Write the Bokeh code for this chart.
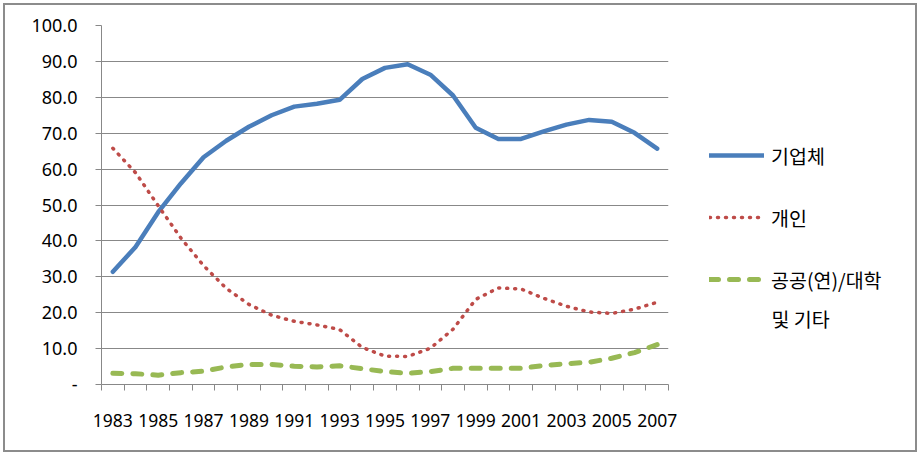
from bokeh.plotting import figure
from bokeh.layouts import row
from bokeh.models import Range1d, FixedTicker, PrintfTickFormatter, Legend, LegendItem, Label
from bokeh.embed import file_html
from bokeh.resources import INLINE

# ---- data ----
years = [1983, 1984, 1985, 1986, 1987, 1988, 1989, 1990, 1991, 1992, 1993, 1994, 1995,
         1996, 1997, 1998, 1999, 2000, 2001, 2002, 2003, 2004, 2005, 2006, 2007]
corp = [31.4, 38.3, 48.0, 56.0, 63.3, 67.9, 71.8, 75.0, 77.4, 78.2, 79.3, 85.1, 88.2,
        89.2, 86.3, 80.5, 71.5, 68.4, 68.4, 70.5, 72.4, 73.7, 73.2, 70.1, 65.7]
indiv = [65.8, 59.0, 49.8, 40.8, 33.1, 26.8, 22.3, 19.3, 17.6, 16.6, 15.3, 10.3, 7.9,
         7.8, 10.1, 15.4, 23.7, 26.9, 26.6, 24.0, 21.8, 20.2, 19.8, 21.0, 22.9]
public = [3.1, 3.0, 2.6, 3.3, 3.7, 4.9, 5.6, 5.6, 5.1, 4.9, 5.2, 4.4, 3.6,
          3.1, 3.6, 4.5, 4.5, 4.5, 4.5, 5.3, 5.8, 6.2, 7.3, 8.9, 11.1]
series_names = ["기업체", "개인", "공공(연)/대학"]
series_name_cont = "및 기타"
x_tick_labels = ["1983", "1985", "1987", "1989", "1991", "1993", "1995",
                 "1997", "1999", "2001", "2003", "2005", "2007"]
y_ticks = [0, 10, 20, 30, 40, 50, 60, 70, 80, 90, 100]

GRAY = "#888888"
INSET = 5  # outer margin + border
TOTAL_W, TOTAL_H = 920 - 2 * INSET, 455 - 2 * INSET
RIGHT_PAD = 22
PLOT_W = 668 + RIGHT_PAD - INSET
LEG_W = TOTAL_W - PLOT_W

STYLES = [
    dict(line_color="#4a7ebb", line_width=4.5, line_join="round", line_cap="round"),
    dict(line_color="#be4b48", line_width=3.5, line_dash="1 7", line_cap="round", line_join="round"),
    dict(line_color="#98b954", line_width=5, line_dash="9 11", line_cap="round", line_join="round"),
]
SERIES = [corp, indiv, public]

p = figure(width=PLOT_W, height=TOTAL_H, output_backend="svg", toolbar_location=None,
           x_range=Range1d(years[0] - 0.5, years[-1] + 0.5), y_range=Range1d(0, 100),
           min_border_left=101 - INSET, min_border_right=RIGHT_PAD,
           min_border_top=25 - INSET, min_border_bottom=71 - INSET)
p.outline_line_color = None
p.background_fill_color = "white"
p.border_fill_color = "white"

# grid
p.xgrid.visible = False
p.ygrid.ticker = FixedTicker(ticks=y_ticks)
p.ygrid.grid_line_color = GRAY
p.ygrid.grid_line_width = 1

# y axis
p.yaxis.ticker = FixedTicker(ticks=y_ticks)
p.yaxis.formatter = PrintfTickFormatter(format="%.1f")
p.yaxis.major_label_overrides = {0: "-"}
p.yaxis.axis_line_color = GRAY
p.yaxis.major_tick_line_color = GRAY
p.yaxis.major_tick_out = 6
p.yaxis.major_tick_in = 0
p.yaxis.minor_tick_line_color = None
p.yaxis.major_label_standoff = 18
p.yaxis.major_label_text_font = "Noto Sans"
p.yaxis.major_label_text_font_size = "18px"
p.yaxis.major_label_text_color = "black"

# x axis
label_vals = [int(s) for s in x_tick_labels]
bounds = [y - 0.5 for y in years] + [years[-1] + 0.5]
p.xaxis.ticker = FixedTicker(ticks=label_vals, minor_ticks=bounds)
p.xaxis.major_label_overrides = {v: s for v, s in zip(label_vals, x_tick_labels)}
p.xaxis.axis_line_color = GRAY
p.xaxis.major_tick_line_color = None
p.xaxis.major_tick_out = 0
p.xaxis.major_tick_in = 0
p.xaxis.minor_tick_line_color = GRAY
p.xaxis.minor_tick_out = 6
p.xaxis.minor_tick_in = 0
p.xaxis.major_label_standoff = 23
p.xaxis.major_label_text_font = "Noto Sans"
p.xaxis.major_label_text_font_size = "17.5px"
p.xaxis.major_label_text_color = "black"

# series
for vals, st in zip(SERIES, STYLES):
    p.line(years, vals, **st)

# ---- legend panel (same series, drawn outside its visible range; only the legend shows) ----
q = figure(width=LEG_W, height=TOTAL_H, output_backend="svg", toolbar_location=None,
           x_range=Range1d(0, 1), y_range=Range1d(-1, 0),
           min_border=0, min_border_left=0, min_border_right=0, min_border_top=0, min_border_bottom=0)
q.axis.visible = False
q.grid.visible = False
q.outline_line_color = None
q.background_fill_color = "white"
q.border_fill_color = "white"
proxies = [q.line(years, vals, **st) for vals, st in zip(SERIES, STYLES)]

legend = Legend(items=[LegendItem(label=n, renderers=[r]) for n, r in zip(series_names, proxies)],
                location=(41 - RIGHT_PAD, 90))
legend.label_text_font = "Noto Sans CJK KR"
legend.label_text_font_size = "19.5px"
legend.label_text_color = "black"
legend.glyph_width = 55
legend.glyph_height = 30
legend.label_height = 30
legend.label_standoff = 7
legend.spacing = 32
legend.padding = 0
legend.margin = 0
legend.border_line_color = None
legend.background_fill_alpha = 0
q.add_layout(legend, "center")

cont = Label(x=103 - RIGHT_PAD, y=66, x_units="screen", y_units="screen", text=series_name_cont,
             text_font="Noto Sans CJK KR", text_font_size="19.5px", text_baseline="middle",
             text_color="black")
q.add_layout(cont)

layout = row(p, q)
layout.styles = {"border": "2px solid #8c8c8c", "margin": "3px"}

open("out.html", "w").write(file_html(layout, INLINE))
